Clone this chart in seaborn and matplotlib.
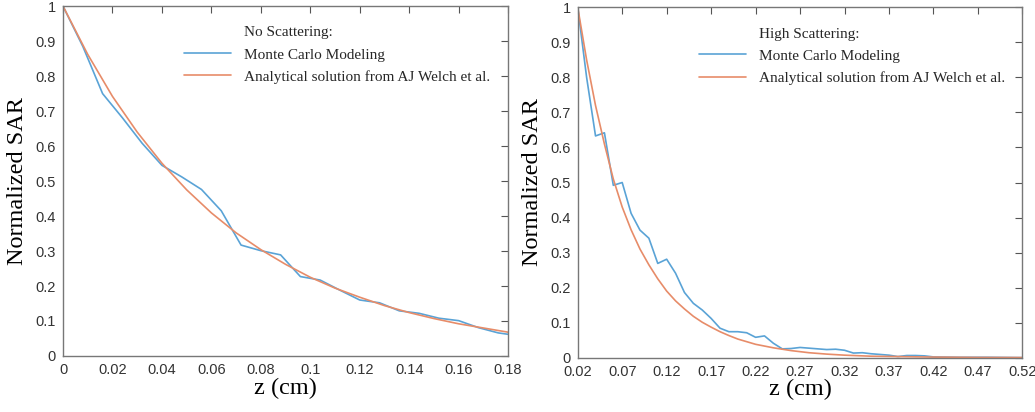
import matplotlib
matplotlib.use("Agg")
import matplotlib.pyplot as plt
import matplotlib.ticker as mtick
from matplotlib.lines import Line2D
import seaborn as sns
import pandas as pd

# Left panel: no scattering
z_mc_left = [0, 0.008, 0.016, 0.024, 0.032, 0.040, 0.048, 0.056, 0.064, 0.072,
             0.080, 0.088, 0.096, 0.104, 0.112, 0.120, 0.128, 0.136, 0.144,
             0.152, 0.160, 0.168, 0.176, 0.180]
sar_mc_left = [1.0, 0.885, 0.750, 0.681, 0.608, 0.545, 0.512, 0.476, 0.415, 0.317,
               0.301, 0.289, 0.227, 0.217, 0.188, 0.160, 0.152, 0.129, 0.122,
               0.108, 0.101, 0.081, 0.066, 0.062]
z_an_left = [0, 0.01, 0.02, 0.03, 0.04, 0.05, 0.06, 0.07, 0.08, 0.09, 0.10,
             0.11, 0.12, 0.13, 0.14, 0.15, 0.16, 0.17, 0.18]
sar_an_left = [1.0, 0.862, 0.742, 0.640, 0.551, 0.475, 0.409, 0.352, 0.304, 0.262,
               0.225, 0.194, 0.168, 0.144, 0.124, 0.107, 0.092, 0.080, 0.068]

# Right panel: high scattering
z_mc_right = [0.02, 0.03, 0.04, 0.05, 0.06, 0.07, 0.08, 0.09, 0.10, 0.11, 0.12,
              0.13, 0.14, 0.15, 0.16, 0.17, 0.18, 0.19, 0.20, 0.21, 0.22, 0.23,
              0.24, 0.25, 0.26, 0.27, 0.28, 0.29, 0.30, 0.31, 0.32, 0.33, 0.34,
              0.35, 0.36, 0.37, 0.38, 0.39, 0.40, 0.41, 0.42, 0.45, 0.48, 0.52]
sar_mc_right = [1.0, 0.80, 0.633, 0.642, 0.492, 0.500, 0.412, 0.364, 0.341, 0.269,
                0.281, 0.241, 0.186, 0.155, 0.136, 0.112, 0.084, 0.074, 0.074,
                0.071, 0.058, 0.062, 0.041, 0.025, 0.026, 0.029, 0.027, 0.025,
                0.023, 0.024, 0.021, 0.013, 0.014, 0.011, 0.009, 0.007, 0.003,
                0.006, 0.006, 0.005, 0.002, 0.001, 0.001, 0.0]
z_an_right = [0.02, 0.03, 0.04, 0.05, 0.06, 0.07, 0.08, 0.09, 0.10, 0.11, 0.12,
              0.13, 0.14, 0.15, 0.16, 0.17, 0.18, 0.19, 0.20, 0.22, 0.24, 0.26,
              0.28, 0.30, 0.32, 0.35, 0.38, 0.42, 0.47, 0.52]
sar_an_right = [1.0, 0.85, 0.72, 0.61, 0.51, 0.43, 0.365, 0.31, 0.265, 0.225, 0.19,
                0.162, 0.139, 0.118, 0.101, 0.087, 0.074, 0.063, 0.053, 0.038,
                0.028, 0.020, 0.014, 0.010, 0.007, 0.004, 0.003, 0.0015, 0.0005, 0.0002]

left_ticks = [0, 0.02, 0.04, 0.06, 0.08, 0.1, 0.12, 0.14, 0.16, 0.18]
right_ticks = [0.02, 0.07, 0.12, 0.17, 0.22, 0.27, 0.32, 0.37, 0.42, 0.47, 0.52]
y_ticks = [0, 0.1, 0.2, 0.3, 0.4, 0.5, 0.6, 0.7, 0.8, 0.9, 1]

BLUE = '#5aa3d6'
ORANGE = '#e78c69'
SERIF = ['Liberation Serif', 'DejaVu Serif']
SANS = ['Liberation Sans', 'DejaVu Sans']

sns.set_theme(style='white')
plt.rcParams['font.family'] = SANS
plt.rcParams.update({
    'xtick.direction': 'in', 'ytick.direction': 'in',
    'xtick.top': True, 'ytick.right': True,
    'xtick.major.size': 5, 'ytick.major.size': 5,
    'xtick.major.width': 0.8, 'ytick.major.width': 0.8,
    'xtick.color': '#555555', 'ytick.color': '#555555',
    'xtick.labelcolor': '#333333', 'ytick.labelcolor': '#333333',
    'axes.edgecolor': '#777777', 'axes.linewidth': 1.0,
})

fig = plt.figure(figsize=(10.35, 4.12), dpi=100)
ax1 = fig.add_axes([0.0609, 0.136, 0.430, 0.849])
ax2 = fig.add_axes([0.5582, 0.132, 0.4296, 0.850])


def draw_panel(ax, z_mc, sar_mc, z_an, sar_an, xticks, xlim, title):
    mc = pd.DataFrame({'z': z_mc, 'sar': sar_mc})
    an = pd.DataFrame({'z': z_an, 'sar': sar_an})
    sns.lineplot(data=mc, x='z', y='sar', ax=ax, color=BLUE, lw=1.2)
    sns.lineplot(data=an, x='z', y='sar', ax=ax, color=ORANGE, lw=1.2)
    ax.set_xlim(*xlim)
    ax.set_ylim(0, 1)
    ax.set_xticks(xticks)
    ax.set_yticks(y_ticks)
    fmt = mtick.FuncFormatter(lambda v, p: f"{v:g}")
    ax.xaxis.set_major_formatter(fmt)
    ax.yaxis.set_major_formatter(fmt)
    ax.tick_params(labelsize=10.5)
    ax.tick_params(axis='x', pad=5)
    ax.tick_params(axis='y', pad=5)
    ax.set_xlabel('z (cm)', fontsize=17.5, family=SERIF, color='black')
    ax.set_ylabel('Normalized SAR', fontsize=17.5, family=SERIF, color='black')
    ax.xaxis.set_label_coords(0.5, -0.062)
    ax.yaxis.set_label_coords(-0.079, 0.5)

    handles = [Line2D([], [], color='none'),
               Line2D([], [], color=BLUE, lw=1.2),
               Line2D([], [], color=ORANGE, lw=1.2)]
    labels = [title, 'Monte Carlo Modeling', 'Analytical solution from AJ Welch et al.']
    ax.legend(handles, labels, loc='upper left', bbox_to_anchor=(0.272, 0.944),
              frameon=False, borderpad=0, borderaxespad=0, handlelength=3.1,
              handletextpad=0.85, labelspacing=0.55,
              prop={'family': SERIF, 'size': 11})


draw_panel(ax1, z_mc_left, sar_mc_left, z_an_left, sar_an_left,
           left_ticks, (0, 0.18), 'No Scattering:')
draw_panel(ax2, z_mc_right, sar_mc_right, z_an_right, sar_an_right,
           right_ticks, (0.02, 0.52), 'High Scattering:')

fig.savefig('out.png', dpi=100)
